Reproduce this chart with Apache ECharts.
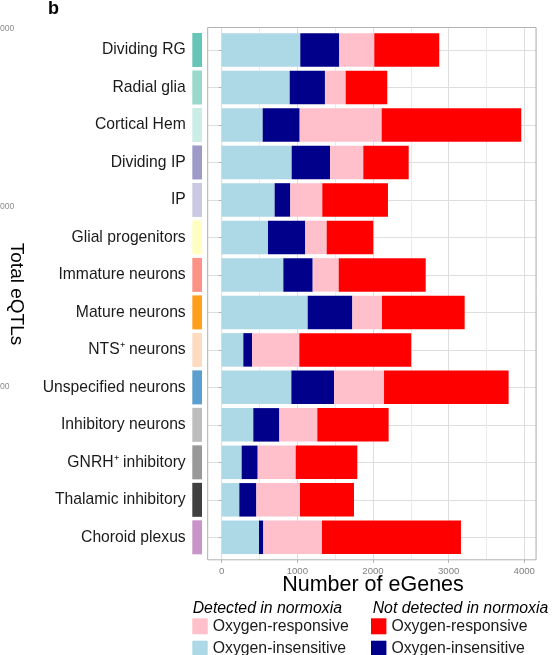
<!DOCTYPE html>
<html>
<head>
<meta charset="utf-8">
<script src="https://cdn.jsdelivr.net/npm/echarts@6/dist/echarts.min.js"></script>
<style>
  html, body { margin: 0; padding: 0; background: #ffffff; }
  #chart { width: 554px; height: 655px; }
</style>
</head>
<body>
<div id="chart"></div>
<script>
// Cell types, top to bottom
const cellTypes = [
  'Dividing RG', 'Radial glia', 'Cortical Hem', 'Dividing IP', 'IP',
  'Glial progenitors', 'Immature neurons', 'Mature neurons', 'NTS\u207A neurons',
  'Unspecified neurons', 'Inhibitory neurons', 'GNRH\u207A inhibitory',
  'Thalamic inhibitory', 'Choroid plexus'
];
// Colour key for each cell type
const typeColors = [
  '#67c5b8', '#99d8ca', '#ccece6', '#9e9ac8', '#cbc9e2',
  '#ffffc2', '#fb9486', '#ff9f1c', '#fddbc0',
  '#5b9fcf', '#bdbdbd', '#999999', '#404040', '#c994c7'
];
// eGene counts per category (stacked left to right)
const detectedInsensitive    = [1039, 899, 542, 925, 700, 612, 815, 1137, 286, 921, 418, 264, 233, 493];
const notDetectedInsensitive = [ 515, 466, 489, 507, 207, 493, 388,  590, 115, 564, 344, 212, 225,  57];
const detectedResponsive     = [ 463, 274, 1084, 440, 423, 283, 344, 392, 625, 661, 502, 502, 577, 776];
const notDetectedResponsive  = [ 859, 550, 1845, 600, 868, 616, 1150, 1093, 1480, 1647, 943, 815, 714, 1837];
const xTicks = [0, 1000, 2000, 3000, 4000];
// Clipped tick labels from the neighbouring panel
const sideTickTexts = ['000', '000', '00'];

const FONT = '"Liberation Sans", Arial, Helvetica, sans-serif';
const X_MIN = -185, X_MAX = 4155;

const PANEL = { left: 207.7, top: 27.5, width: 328.3, height: 532.3 };
const rowStep = PANEL.height / (cellTypes.length - 1 + 1.2);
const rowsTop = PANEL.top + 0.6 * rowStep;
const rowsHeight = rowStep * (cellTypes.length - 1);

const stackDefs = [
  { name: 'detIns',  text: 'Oxygen-insensitive', color: '#add8e6', data: detectedInsensitive },
  { name: 'ndIns',   text: 'Oxygen-insensitive', color: '#00008b', data: notDetectedInsensitive },
  { name: 'detResp', text: 'Oxygen-responsive',  color: '#ffc0cb', data: detectedResponsive },
  { name: 'ndResp',  text: 'Oxygen-responsive',  color: '#ff0000', data: notDetectedResponsive }
];
const legendText = {};
stackDefs.forEach(d => { legendText[d.name] = d.text; });

const chart = echarts.init(document.getElementById('chart'), null, { renderer: 'canvas' });

const series = stackDefs.map(d => ({
  name: d.name,
  type: 'bar',
  stack: 'genes',
  xAxisIndex: 2,
  yAxisIndex: 1,
  barWidth: 33.5,
  itemStyle: { color: d.color },
  emphasis: { disabled: true },
  data: d.data
}));

series.push({
  name: 'cellTypeKey',
  type: 'bar',
  xAxisIndex: 3,
  yAxisIndex: 2,
  barWidth: 34,
  emphasis: { disabled: true },
  data: cellTypes.map((c, i) => ({ value: 1, itemStyle: { color: typeColors[i] } }))
});

const sideTickY = [29, 207, 387];

function legendBlock(left, names) {
  return {
    left: left, top: 613.3, width: 200, height: 70, padding: 5,
    orient: 'vertical', icon: 'rect',
    itemWidth: 15.4, itemHeight: 16, itemGap: 6.4, selectedMode: false,
    data: names, formatter: n => legendText[n],
    textStyle: { fontSize: 15.8, color: '#1a1a1a', fontFamily: FONT }
  };
}

const option = {
  animation: false,
  backgroundColor: '#ffffff',
  grid: [
    { left: PANEL.left, top: PANEL.top, width: PANEL.width, height: PANEL.height,
      show: true, borderColor: '#b3b3b3', borderWidth: 1, backgroundColor: 'transparent',
      containLabel: false, outerBoundsMode: 'none', z: 3 },
    { left: PANEL.left, top: rowsTop, width: PANEL.width, height: rowsHeight,
      containLabel: false, outerBoundsMode: 'none' },
    { left: 192.3, top: rowsTop, width: 9.7, height: rowsHeight,
      containLabel: false, outerBoundsMode: 'none' }
  ],
  xAxis: [
    { gridIndex: 0, type: 'value', min: X_MIN, max: X_MAX, splitNumber: 9,
      axisLine: { show: false }, axisTick: { show: false }, axisLabel: { show: false },
      splitLine: { show: true, lineStyle: { color: ['#ebebeb', '#dedede'], width: 1 } } },
    { gridIndex: 0, type: 'value', position: 'bottom', min: X_MIN, max: X_MAX,
      axisLine: { show: false },
      axisTick: { show: true, length: 3, customValues: xTicks, lineStyle: { color: '#b3b3b3' } },
      axisLabel: { customValues: xTicks, formatter: v => String(v),
        fontSize: 9.6, color: '#808080', margin: 7, fontFamily: FONT },
      splitLine: { show: false } },
    { gridIndex: 1, type: 'value', min: X_MIN, max: X_MAX, show: false, splitLine: { show: false } },
    { gridIndex: 2, type: 'value', min: 0, max: 1, show: false, splitLine: { show: false } }
  ],
  yAxis: [
    { gridIndex: 0, type: 'value', min: 0, max: 1, show: false, splitLine: { show: false } },
    { gridIndex: 1, type: 'category', data: cellTypes, inverse: true, boundaryGap: false,
      axisLine: { show: false },
      axisTick: { show: true, length: 3, lineStyle: { color: '#b3b3b3' } },
      axisLabel: { interval: 0, margin: 22, fontSize: 15.7, color: '#1a1a1a', fontFamily: FONT },
      splitLine: { show: true, lineStyle: { color: '#dedede', width: 1 } } },
    { gridIndex: 2, type: 'category', data: cellTypes, inverse: true, boundaryGap: false, show: false }
  ],
  legend: [
    legendBlock(187.3, ['detResp', 'detIns']),
    legendBlock(366, ['ndResp', 'ndIns'])
  ],
  graphic: [
    { type: 'text', x: 48, y: 9, style: { text: 'b', font: 'bold 18px ' + FONT, fill: '#000',
      align: 'left', verticalAlign: 'middle', textAlign: 'left', textVerticalAlign: 'middle' } },
    { type: 'text', x: 16.5, y: 294, rotation: -Math.PI / 2,
      style: { text: 'Total eQTLs', fontSize: 19, fontFamily: FONT, fill: '#000',
        align: 'center', verticalAlign: 'middle', textAlign: 'center', textVerticalAlign: 'middle' } },
    { type: 'text', x: 373, y: 585,
      style: { text: 'Number of eGenes', fontSize: 21.5, fontFamily: FONT, fill: '#000',
        align: 'center', verticalAlign: 'middle', textAlign: 'center', textVerticalAlign: 'middle' } },
    { type: 'text', x: 192.7, y: 609,
      style: { text: 'Detected in normoxia', font: 'italic 15.8px ' + FONT, fill: '#000',
        align: 'left', verticalAlign: 'middle', textAlign: 'left', textVerticalAlign: 'middle' } },
    { type: 'text', x: 372.7, y: 609,
      style: { text: 'Not detected in normoxia', font: 'italic 15.8px ' + FONT, fill: '#000',
        align: 'left', verticalAlign: 'middle', textAlign: 'left', textVerticalAlign: 'middle' } }
  ].concat(sideTickTexts.map((t, i) => ({
    type: 'text', x: 0, y: sideTickY[i],
    style: { text: t, fontSize: 8.6, fontFamily: FONT, fill: '#8c8c8c',
      align: 'left', verticalAlign: 'middle', textAlign: 'left', textVerticalAlign: 'middle' }
  }))),
  series: series
};

chart.setOption(option);
</script>
</body>
</html>
